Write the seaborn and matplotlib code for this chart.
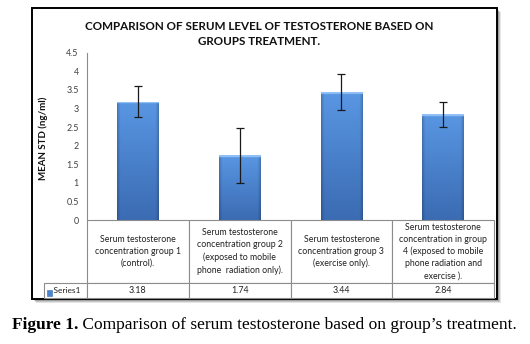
import numpy as np
import pandas as pd
import matplotlib
matplotlib.use("Agg")
import matplotlib.pyplot as plt
from matplotlib.patches import Rectangle
from matplotlib.table import Table
import seaborn as sns

# ---- data ----
categories = [
    "Serum testosterone\nconcentration group 1\n(control).",
    "Serum testosterone\nconcentration group 2\n(exposed to mobile\nphone  radiation only).",
    "Serum testosterone\nconcentration group 3\n(exercise only).",
    "Serum testosterone\nconcentration in group\n4 (exposed to mobile\nphone radiation and\nexercise ).",
]
means = [3.18, 1.74, 3.44, 2.84]
sds = [0.42, 0.74, 0.48, 0.33]
value_labels = ["3.18", "1.74", "3.44", "2.84"]
series_name = "Series1"
yticks = [0, 0.5, 1, 1.5, 2, 2.5, 3, 3.5, 4, 4.5]
ytick_labels = ["0", "0.5", "1", "1.5", "2", "2.5", "3", "3.5", "4", "4.5"]
title = "COMPARISON OF SERUM LEVEL OF TESTOSTERONE BASED ON\nGROUPS TREATMENT."
ylabel = "MEAN STD (ng/ml)"
caption_bold = "Figure 1."
caption_rest = " Comparison of serum testosterone based on group\u2019s treatment."

sns.set_style("white")
plt.rcParams["font.family"] = ["Lato", "DejaVu Sans"]

W, H = 530, 344
fig = plt.figure(figsize=(W / 100, H / 100), dpi=100)
fig.patch.set_facecolor("white")

def px(x0, y0, x1, y1):
    return [x0 / W, 1 - y1 / H, (x1 - x0) / W, (y1 - y0) / H]

# frame with shadow
for i, a in enumerate([0.10, 0.14, 0.18]):
    off = 4 - i
    fig.patches.append(Rectangle((32 / W + off / W, (1 - 299 / H) - off / H), 465 / W, 291 / H,
                                 transform=fig.transFigure, facecolor=(0, 0, 0, a),
                                 edgecolor="none", zorder=0))
fig.patches.append(Rectangle((32 / W, 1 - 299 / H), 465 / W, 291 / H, transform=fig.transFigure,
                             facecolor="white", edgecolor="black", linewidth=1.4, zorder=1))

ax = fig.add_axes(px(87, 52.7, 494, 220))
ax.set_zorder(2)
ax.patch.set_alpha(0)

df = pd.DataFrame({"group": categories, "mean": means})
sns.barplot(data=df, x="group", y="mean", order=categories, color="#4c84cf",
            width=0.41, ax=ax, errorbar=None, edgecolor="none", zorder=2)

# gradient shading on each bar, clipped to the bar patch
for p in ax.patches:
    x0, w, h = p.get_x(), p.get_width(), p.get_height()
    ny, nx = 400, 48
    t = np.linspace(0, 1, ny)[:, None]  # top->bottom
    top = np.array([0.35, 0.59, 0.89])
    bot = np.array([0.23, 0.42, 0.70])
    col = top[None, None, :] * (1 - t[..., None]) + bot[None, None, :] * t[..., None]
    col = np.repeat(col, nx, axis=1)
    u = np.linspace(0, 1, nx)
    edge = np.clip(np.minimum(u, 1 - u) / 0.07, 0, 1)
    col = col * (0.80 + 0.20 * edge)[None, :, None]
    bevel = max(1, int(round(0.055 / h * ny)))
    col[:bevel] = np.array([0.57, 0.76, 0.97])
    im = ax.imshow(col, extent=(x0, x0 + w, 0, h), aspect="auto", origin="upper",
                   zorder=2.5, interpolation="bilinear")
    im.set_clip_path(p)

ax.errorbar(x=np.arange(len(means)), y=means, yerr=sds, fmt="none", ecolor="#1a1a1a",
            elinewidth=0.9, capsize=3.2, capthick=0.9, zorder=4)

ax.set_ylim(0, 4.5)
ax.set_xlim(-0.5, len(categories) - 0.5)
ax.set_yticks(yticks)
ax.set_yticklabels(ytick_labels)
ax.tick_params(axis="y", length=0, labelsize=6.4, labelcolor="#404040", pad=6)
ax.set_xticks([])
ax.set_xlabel("")
ax.set_ylabel("")
for s in ["top", "right", "bottom"]:
    ax.spines[s].set_visible(False)
ax.spines["left"].set_color("#8c8c8c")
ax.spines["left"].set_linewidth(0.8)

# data table
tab_w = [43, 101.75, 101.75, 101.75, 101.75]
tot_w = sum(tab_w)
plot_w = 407.0
tbl = Table(ax, bbox=[-43 / plot_w, -78 / 167.3, tot_w / plot_w, 78 / 167.3])
row_h = [63, 15]
ec = "#8c8c8c"
c = tbl.add_cell(0, 0, tab_w[0], row_h[0], text="", loc="center", edgecolor=ec)
c.visible_edges = ""
for j, cat in enumerate(categories):
    c = tbl.add_cell(0, j + 1, tab_w[j + 1], row_h[0], text=cat, loc="center", edgecolor=ec)
    c.get_text().set_fontsize(6.3)
    c.get_text().set_linespacing(1.42)
    c.get_text().set_color("#202020")
c = tbl.add_cell(1, 0, tab_w[0], row_h[1], text="    " + series_name, loc="left", edgecolor=ec)
c.get_text().set_fontsize(6.0)
c.get_text().set_color("#202020")
c.PAD = 0.02
for j, v in enumerate(value_labels):
    c = tbl.add_cell(1, j + 1, tab_w[j + 1], row_h[1], text=v, loc="center", edgecolor=ec)
    c.get_text().set_fontsize(6.4)
    c.get_text().set_color("#202020")
tbl.auto_set_font_size(False)
for cell in tbl.get_celld().values():
    cell.set_linewidth(0.8)
tbl.set_zorder(3)
ax.add_table(tbl)
# legend key in Series1 cell
ax.add_patch(Rectangle((-40 / plot_w, -75.5 / 167.3), 5 / plot_w, 6 / 167.3,
                       transform=ax.transAxes, facecolor="#4c84cf", edgecolor="#3a69ad",
                       linewidth=0.4, clip_on=False, zorder=5))

# titles
fig.text(259 / W, 1 - 34 / H, title, ha="center", va="center", fontsize=8.4,
         fontweight="bold", linespacing=1.55, color="#111111", zorder=5)
fig.text(43 / W, 1 - 138 / H, ylabel, rotation=90, ha="center", va="center",
         fontsize=7.0, fontweight="bold", color="#111111", zorder=5)

# caption
cap1 = fig.text(12 / W, 1 - 325 / H, caption_bold, ha="left", va="center",
                fontsize=12.5, fontweight="bold", family=["Liberation Serif"], color="black")
ax.annotate(caption_rest, xy=(1, 0), xycoords=cap1, xytext=(0, 0), textcoords="offset points",
            ha="left", va="bottom", fontsize=12.5, family=["Liberation Serif"], color="black",
            annotation_clip=False)

fig.savefig("out.png", dpi=100, facecolor="white")
